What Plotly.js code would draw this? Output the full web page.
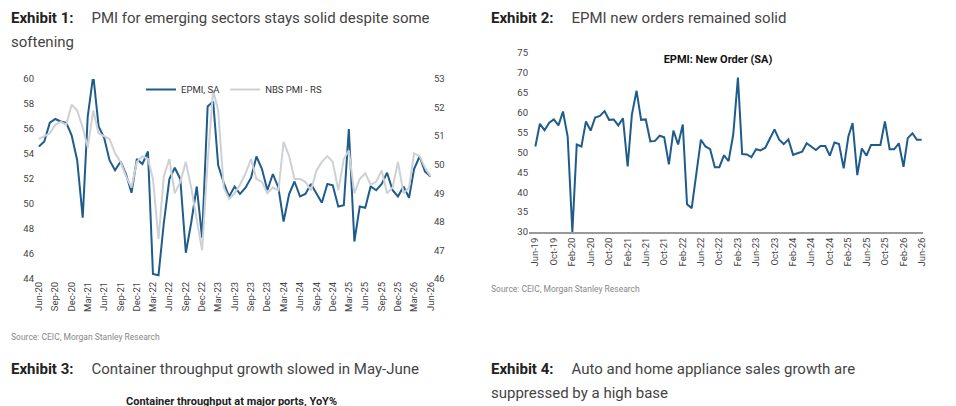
<!DOCTYPE html>
<html>
<head>
<meta charset="utf-8">
<script src="https://cdn.plot.ly/plotly-3.0.1.min.js"></script>
<style>
body { margin:0; width:956px; height:406px; overflow:hidden; background:#fff; font-family: Roboto, "Noto Sans", sans-serif; color:#333; }
.t { position:absolute; font-size:15px; line-height:24px; color:#444; }
.t b { color:#222; display:inline-block; margin-right:18px; }
.src { position:absolute; font-size:8.5px; color:#888; }
#g1 { position:absolute; left:0; top:60px; width:470px; height:270px; }
#g2 { position:absolute; left:480px; top:40px; width:476px; height:260px; }
</style>
</head>
<body>
<div class="t" style="left:11px;top:6px;width:450px;"><b>Exhibit 1:</b>PMI for emerging sectors stays solid despite some softening</div>
<div class="t" style="left:491px;top:6px;"><b>Exhibit 2:</b>EPMI new orders remained solid</div>
<div class="src" style="left:11px;top:332px;">Source: CEIC, Morgan Stanley Research</div>
<div class="src" style="left:491px;top:284px;">Source: CEIC, Morgan Stanley Research</div>
<div class="t" style="left:11px;top:357px;"><b>Exhibit 3:</b>Container throughput growth slowed in May-June</div>
<div class="t" style="left:491px;top:357px;width:420px;"><b>Exhibit 4:</b>Auto and home appliance sales growth are suppressed by a high base</div>
<div style="position:absolute;left:126px;top:396px;font-size:11px;line-height:12px;font-weight:bold;color:#222;">Container throughput at major ports, YoY%</div>
<div id="g1"></div>
<div id="g2"></div>
<script>
// Exhibit 1: monthly Jun-20 .. Jun-26
let epmi = [54.6,55.0,56.5,56.8,56.6,56.5,55.5,53.5,48.9,57.0,60.3,56.2,55.3,53.5,52.7,53.4,52.4,50.9,53.6,53.2,
	54.2,44.4,44.3,48.5,52.0,52.9,52.0,46.1,48.5,51.4,47.3,57.8,58.2,53.1,51.7,50.6,51.4,50.8,51.3,52.1,
	53.8,52.8,51.1,52.4,51.3,48.6,50.8,51.8,50.6,50.8,51.6,50.8,50.1,51.6,51.5,49.8,49.9,56.0,47.0,49.8,
	49.7,51.4,51.1,51.6,52.5,51.1,50.6,51.4,50.5,52.8,53.8,52.6,52.2];
let nbs = [50.9,51.0,51.1,51.4,51.5,51.4,52.1,51.9,51.3,50.6,51.9,51.1,51.0,50.9,50.4,50.1,49.6,49.2,50.1,50.3,
	50.2,49.5,47.4,49.6,50.2,49.0,49.4,50.1,49.2,48.0,47.0,50.1,52.6,51.9,49.2,48.8,49.0,49.3,49.7,50.2,
	49.5,49.4,49.0,49.2,49.1,50.8,50.3,49.5,49.5,49.4,49.1,49.8,50.1,50.3,50.1,49.1,50.2,50.5,49.0,49.5,
	49.7,49.3,49.4,49.8,49.0,49.2,50.1,49.0,49.2,50.4,50.3,49.9,49.6];
// Exhibit 2: monthly Jun-19 .. Jun-26
let newOrder = [51.5,57.2,55.6,57.5,58.3,56.8,60.3,
	54.0,30.0,52.0,51.5,57.8,55.5,58.8,59.2,60.4,58.2,58.3,56.8,
	58.6,46.5,59.5,65.5,58.2,58.3,52.8,52.9,54.2,53.8,47.0,55.5,
	52.0,57.0,37.0,36.0,44.0,53.2,51.5,50.8,46.3,46.3,49.3,47.8,
	54.5,68.8,49.6,49.5,48.8,50.8,50.5,51.2,53.5,55.8,53.2,52.1,
	53.3,49.4,49.8,50.2,52.3,51.5,50.6,51.6,51.6,49.2,52.5,52.1,
	46.0,54.0,57.4,44.3,51.0,49.2,51.9,51.9,51.9,57.8,50.8,50.8,
	52.3,46.4,53.6,54.8,53.2,53.2];

function months(y, m, n) {
	let out = [];
	for (let i = 0; i < n; i++) {
		let mm = m + i;
		let yy = y + Math.floor((mm - 1) / 12);
		mm = ((mm - 1) % 12) + 1;
		out.push(yy + '-' + (mm < 10 ? '0' : '') + mm + '-01');
	}
	return out;
}
let x1 = months(2020, 6, epmi.length);
let x2 = months(2019, 6, newOrder.length);
let tf = {family:'Roboto, sans-serif', size:9.5, color:'#444'};

Plotly.newPlot('g1', [
	{x:x1, y:epmi, name:'EPMI, SA', mode:'lines', line:{color:'#1f5c8b', width:2}},
	{x:x1, y:nbs, name:'NBS PMI - RS', mode:'lines', yaxis:'y2', line:{color:'#cdd1d5', width:2}}
], {
	margin:{l:35, r:37, t:19, b:51},
	paper_bgcolor:'rgba(0,0,0,0)', plot_bgcolor:'rgba(0,0,0,0)',
	showlegend:true,
	legend:{orientation:'h', x:0.5, xanchor:'center', y:1.02, yanchor:'top', bgcolor:'rgba(0,0,0,0)', font:{family:'Roboto, sans-serif', size:9.5, color:'#333'}},
	xaxis:{type:'date', tickformat:'%b-%y', dtick:'M3', tick0:'2020-06-01', tickangle:-90, range:['2020-05-10','2026-06-15'], showgrid:false, tickfont:tf, ticks:''},
	yaxis:{range:[44,60], dtick:2, showgrid:false, zeroline:false, tickfont:tf},
	yaxis2:{range:[46,53], dtick:1, overlaying:'y', side:'right', showgrid:false, zeroline:false, tickfont:tf}
}, {displayModeBar:false});

Plotly.newPlot('g2', [
	{x:x2, y:newOrder, mode:'lines', line:{color:'#1f5c8b', width:2}}
], {
	margin:{l:49, r:33, t:13, b:68},
	paper_bgcolor:'rgba(0,0,0,0)', plot_bgcolor:'rgba(0,0,0,0)',
	showlegend:false,
	title:{text:'<b>EPMI: New Order (SA)</b>', x:0.5, xanchor:'center', y:0.94, font:{family:'Roboto, sans-serif', size:11, color:'#111'}},
	xaxis:{type:'date', tickformat:'%b-%y', dtick:'M4', tick0:'2019-06-01', tickangle:-90, range:['2019-04-20','2026-06-10'], showgrid:false, tickfont:tf, ticks:'', showline:true, linecolor:'#999', linewidth:1.5},
	yaxis:{range:[30,75], dtick:5, showgrid:false, zeroline:false, tickfont:tf}
}, {displayModeBar:false});
</script>
</body>
</html>
